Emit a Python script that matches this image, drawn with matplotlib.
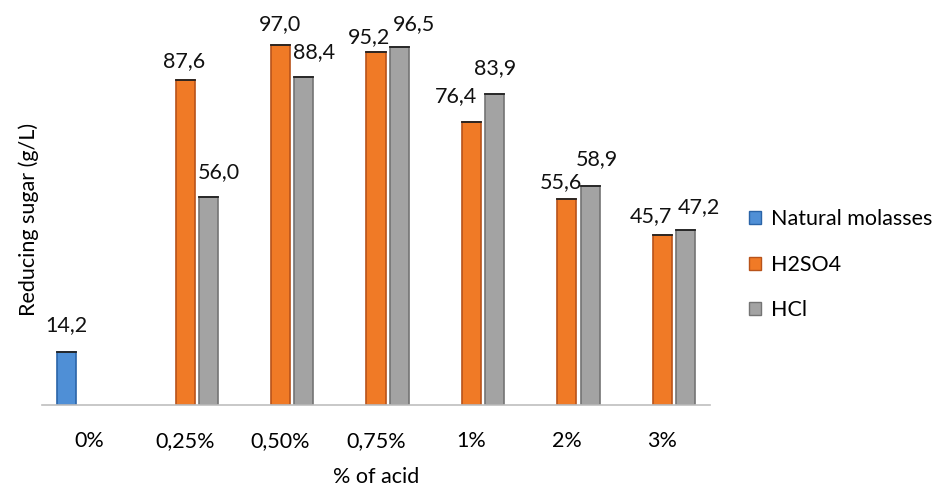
import numpy as np
import matplotlib.pyplot as plt
from matplotlib.patches import Patch

# Dados: açúcar redutor por concentração de ácido
categorias = ['0%', '0,25%', '0,50%', '0,75%', '1%', '2%', '3%']
melaco_natural = [14.2, np.nan, np.nan, np.nan, np.nan, np.nan, np.nan]
h2so4 = [np.nan, 87.6, 97.0, 95.2, 76.4, 55.6, 45.7]
hcl = [np.nan, 56.0, 88.4, 96.5, 83.9, 58.9, 47.2]

series = [
    ('Natural molasses', melaco_natural, '#4F8FD6', '#2A64A8'),
    ('H2SO4', h2so4, '#F07A26', '#B8531A'),
    ('HCl', hcl, '#A3A3A3', '#747474'),
]

# deslocamentos manuais dos rótulos (pixels) para evitar sobreposição
desloc_rotulos = {
    'Natural molasses': [(0, 27)] + [(0, 0)] * 6,
    'H2SO4': [(0, 0), (-1, 19), (-1, 21), (-7, 15), (-15, 25), (-6, 17), (-11, 19)],
    'HCl': [(0, 0), (10, 25), (10, 25), (15, 23), (0, 26), (7, 27), (13, 23)],
}

plt.rcParams['font.family'] = ['Lato', 'DejaVu Sans']

fig = plt.figure(figsize=(9.41, 4.86), dpi=100)
ax = fig.add_axes([0.0446, 0.1667, 0.71, 0.7634])

x = np.arange(len(categorias))
largura = 0.2
passo = 0.244

for k, (nome, valores, cor, borda) in enumerate(series):
    pos = x + (k - 1) * passo
    vals = np.array(valores, dtype=float)
    ax.bar(pos, vals, width=largura, color=cor, edgecolor=borda, linewidth=1.2, zorder=2)
    for i, v in enumerate(vals):
        if np.isnan(v):
            continue
        # linha escura no topo da barra
        ax.plot([pos[i] - largura / 2, pos[i] + largura / 2], [v, v], color='#222222', lw=1.3, zorder=3)
        dx, dy = desloc_rotulos[nome][i]
        ax.annotate(f'{v:.1f}'.replace('.', ','), (pos[i], v), xytext=(dx, dy),
                    textcoords='offset pixels', ha='center', va='center', fontsize=15.5, color='#111111')

ax.set_xlim(-0.5, len(categorias) - 0.5)
ax.set_ylim(0, 100)
ax.set_xticks(x)
ax.set_xticklabels(categorias, fontsize=15.5)
ax.tick_params(axis='x', length=0, pad=19)
ax.set_yticks([])
for lado in ['top', 'right', 'left']:
    ax.spines[lado].set_visible(False)
ax.spines['bottom'].set_color('#BFBFBF')
ax.spines['bottom'].set_linewidth(1.2)

ax.set_xlabel('% of acid', fontsize=15.5, labelpad=11)
ax.set_ylabel('Reducing sugar (g/L)', fontsize=15.5, labelpad=2)

handles = [Patch(facecolor=c, edgecolor=b, linewidth=1.0) for _, _, c, b in series]
fig.legend(handles, [s[0] for s in series], loc='center left', bbox_to_anchor=(0.796, 0.455),
           frameon=False, fontsize=15.5, handlelength=0.55, handleheight=0.55,
           handletextpad=0.45, labelspacing=1.18, borderaxespad=0, borderpad=0)

fig.savefig('out.png', dpi=100)
